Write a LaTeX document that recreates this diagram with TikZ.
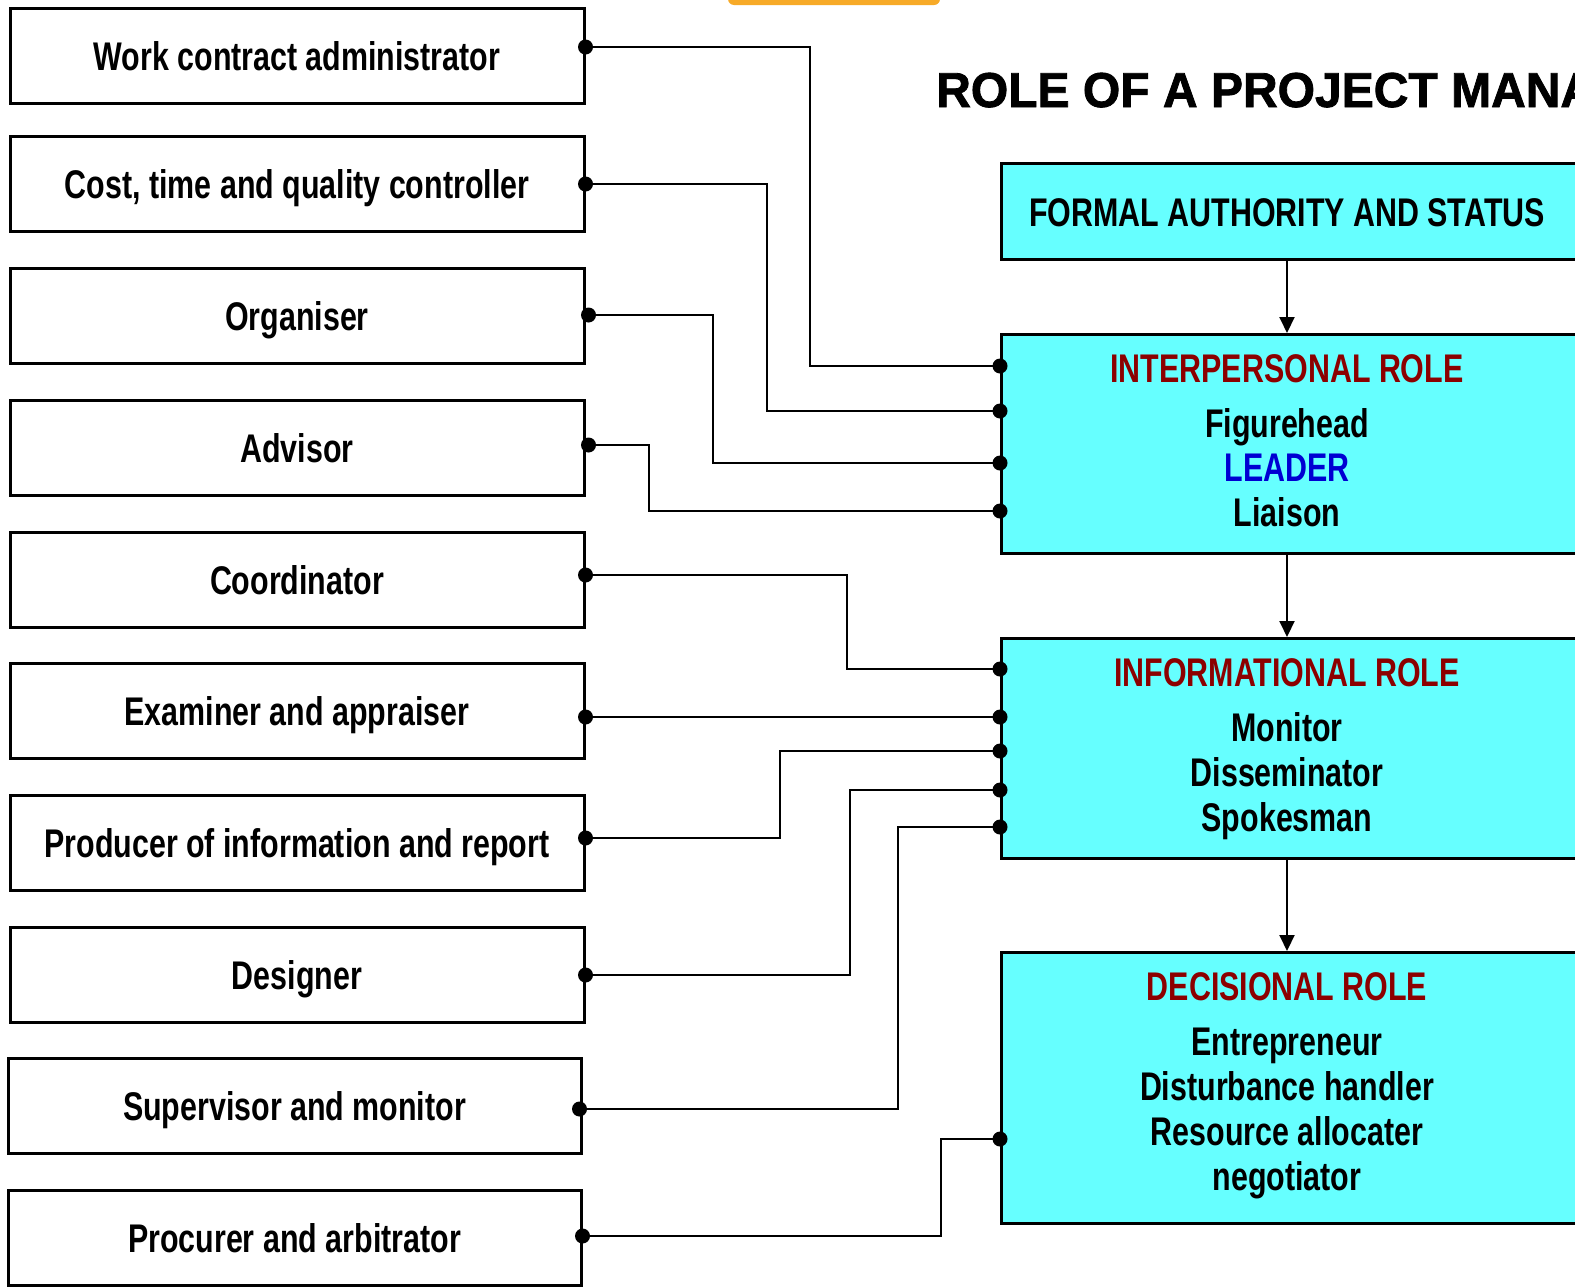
\documentclass[tikz,border=0pt]{standalone}
\usepackage{fontspec}
\setmainfont{Liberation Sans}
\newfontfamily\nar[FakeStretch=0.76]{Liberation Sans}
\newfontfamily\ttlfont[FakeStretch=0.98, BoldFeatures={FakeBold=1.6}]{Liberation Sans}
\usetikzlibrary{arrows.meta}
\definecolor{cy}{RGB}{102,255,255}
\definecolor{tred}{RGB}{140,0,0}
\definecolor{lblue}{RGB}{0,0,210}
\definecolor{orng}{RGB}{247,170,40}
\begin{document}
\begin{tikzpicture}[x=1pt,y=-1pt,
  lbox/.style={draw, line width=3pt, minimum width=574pt, minimum height=95pt, inner sep=0pt,
    font=\nar\bfseries\fontsize{40}{48}\selectfont, text height=29pt, text depth=0pt},
  rbox/.style={draw, fill=cy, line width=3pt, minimum width=620pt, anchor=north west, inner sep=0pt},
  rt/.style={anchor=base, inner sep=0pt, font=\nar\bfseries\fontsize{40}{48}\selectfont},
  conn/.style={line width=2pt},
  arr/.style={line width=2pt, -{Triangle[length=16pt,width=15pt]}},
  dot/.style={fill=black}]
\clip (0,0) rectangle (1575,1288);
\useasboundingbox (0,0) rectangle (1575,1288);
\fill[white] (0,0) rectangle (1575,1288);
% orange tab at top
\fill[orng, rounded corners=6pt] (728,-20) rectangle (940,5);
% title
\node[anchor=base west, inner sep=0pt, font=\ttlfont\bfseries\fontsize{49}{56}\selectfont] (title) at (936,107) {ROLE OF A PROJECT MANAGER};
% left boxes
\node[lbox] (b1) at (297,55.5) {Work contract administrator};
\node[lbox] (b2) at (297,184) {Cost, time and quality controller};
\node[lbox] (b3) at (297,315.5) {Organiser};
\node[lbox] (b4) at (297,447.5) {Advisor};
\node[lbox] (b5) at (297,579.5) {Coordinator};
\node[lbox] (b6) at (297,711) {Examiner and appraiser};
\node[lbox] (b7) at (297,842.5) {Producer of information and report};
\node[lbox] (b8) at (297,974.5) {Designer};
\node[lbox, minimum width=573pt] (b9) at (294.5,1106) {Supervisor and monitor};
\node[lbox, minimum width=573pt] (b10) at (294.5,1238) {Procurer and arbitrator};
% right boxes
\node[rbox, minimum height=96pt] (fa) at (1000,162) {};
\node[rbox, minimum height=219pt] (ip) at (1000,333) {};
\node[rbox, minimum height=220pt] (ifo) at (1000,637) {};
\node[rbox, minimum height=271pt] (dec) at (1000,951) {};
% right texts
\node[rt] (fat) at (1287,226) {FORMAL AUTHORITY AND STATUS};
\node[rt, text=tred] (ipt) at (1287,382) {INTERPERSONAL ROLE};
\node[rt] (ip1t) at (1287,437) {Figurehead};
\node[rt, text=lblue] (ip2t) at (1287,481) {LEADER};
\node[rt] (ip3t) at (1287,526) {Liaison};
\node[rt, text=tred] (ift) at (1287,686) {INFORMATIONAL ROLE};
\node[rt] (if1t) at (1287,741) {Monitor};
\node[rt] (if2t) at (1287,786) {Disseminator};
\node[rt] (if3t) at (1287,831) {Spokesman};
\node[rt, text=tred] (dct) at (1287,1000) {DECISIONAL ROLE};
\node[rt] (dc1t) at (1287,1055) {Entrepreneur};
\node[rt] (dc2t) at (1287,1100) {Disturbance handler};
\node[rt] (dc3t) at (1287,1145) {Resource allocater};
\node[rt] (dc4t) at (1287,1190) {negotiator};
% vertical arrows
\coordinate (ax) at (1287,0);
\draw[arr] (fa.south -| ax) -- (ip.north -| ax);
\draw[arr] (ip.south -| ax) -- (ifo.north -| ax);
\draw[arr] (ifo.south -| ax) -- (dec.north -| ax);
% pins on the right boxes
\coordinate (i1) at ([yshift=-33pt]ip.north west);
\coordinate (i2) at ([yshift=-78pt]ip.north west);
\coordinate (i3) at ([yshift=-130pt]ip.north west);
\coordinate (i4) at ([yshift=-178pt]ip.north west);
\coordinate (f1) at ([yshift=-32pt]ifo.north west);
\coordinate (f2) at ([yshift=-80pt]ifo.north west);
\coordinate (f3) at ([yshift=-114pt]ifo.north west);
\coordinate (f4) at ([yshift=-153pt]ifo.north west);
\coordinate (f5) at ([yshift=-190pt]ifo.north west);
\coordinate (d1) at ([yshift=-188pt]dec.north west);
% pins on the left boxes
\coordinate (l1) at ([yshift=8.5pt]b1.east);
\coordinate (l2) at (b2.east);
\coordinate (l3) at ([xshift=3pt,yshift=0.5pt]b3.east);
\coordinate (l4) at ([xshift=3pt,yshift=2.5pt]b4.east);
\coordinate (l5) at ([yshift=4.5pt]b5.east);
\coordinate (l6) at ([yshift=-6pt]b6.east);
\coordinate (l7) at ([yshift=4.5pt]b7.east);
\coordinate (l8) at ([yshift=-0.5pt]b8.east);
\coordinate (l9) at ([xshift=-3pt,yshift=-3pt]b9.east);
\coordinate (l10) at ([yshift=2pt]b10.east);
% connectors
\draw[conn] (l1) -- ++(224,0) |- (i1);
\draw[conn] (l2) -- ++(181,0) |- (i2);
\draw[conn] (l3) -- ++(124,0) |- (i3);
\draw[conn] (l4) -- ++(60,0) |- (i4);
\draw[conn] (l5) -- ++(261,0) |- (f1);
\draw[conn] (l6) -- (f2);
\draw[conn] (l7) -- ++(194,0) |- (f3);
\draw[conn] (l8) -- ++(264,0) |- (f4);
\draw[conn] (l9) -- ++(318,0) |- (f5);
\draw[conn] (l10) -- ++(358,0) |- (d1);
% dots
\foreach \p in {l1,l2,l3,l4,l5,l6,l7,l8,l9,l10,i1,i2,i3,i4,f1,f2,f3,f4,f5,d1}
  \fill[dot] (\p) circle (7.5pt);
\end{tikzpicture}
\end{document}
